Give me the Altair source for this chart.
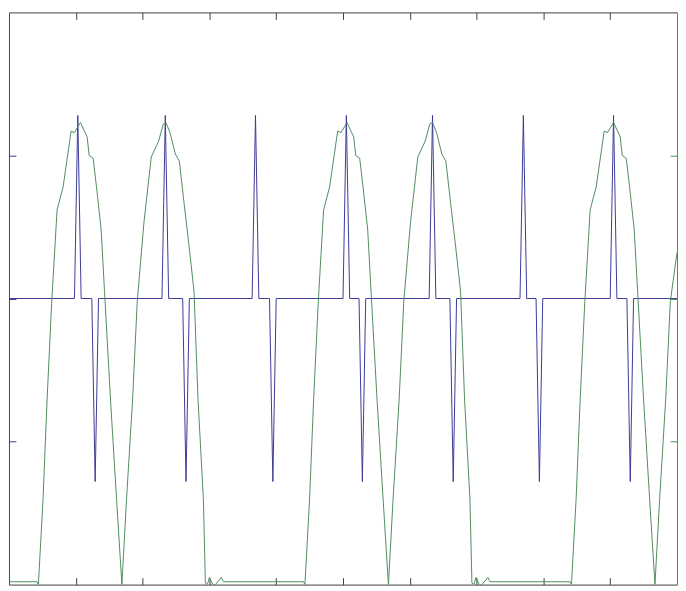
import altair as alt
import pandas as pd

W, H = 676, 579

BLUE = "#3a3a98"
GREEN = "#4e8c5e"
GRAY = "#3c3c3c"

# blue series: baseline 0 with positive / negative spikes (x positions of apexes)
blue_pos_x = [1.03, 2.34, 3.69, 5.05, 6.34, 7.70, 9.05]
blue_neg_x = [1.29, 2.65, 3.95, 5.29, 6.65, 7.94, 9.30]
spike_value = 1.28
spike_half_width = 0.05

# green series, three repeating cycles
green_x_1 = [0, 0.42, 0.44, 0.51, 0.57, 0.64, 0.72, 0.81, 0.93, 0.98,
             1.07, 1.17, 1.20, 1.26, 1.31, 1.38, 1.43, 1.52, 1.61, 1.69,
             1.76, 1.85, 1.92, 2.02, 2.13, 2.24, 2.31, 2.35, 2.41, 2.49,
             2.55, 2.62, 2.69, 2.77, 2.83, 2.91, 2.94, 2.97, 3.00, 3.05,
             3.09, 3.18, 3.21, 4.41]
green_y_1 = [-1.98, -1.98, -2.00, -1.40, -0.71, -0.02, 0.62, 0.78, 1.17, 1.16,
             1.23, 1.13, 1.00, 0.98, 0.78, 0.48, 0.05, -0.71, -1.40, -2.00,
             -1.40, -0.71, -0.02, 0.53, 0.99, 1.10, 1.22, 1.23, 1.16, 1.01,
             0.96, 0.67, 0.39, 0.05, -0.71, -1.40, -1.99, -2.00, -1.95, -2.00,
             -2.00, -1.95, -1.98, -1.98]
green_x_2 = [4.43, 4.50, 4.56, 4.63, 4.71, 4.80, 4.92, 4.97,
             5.06, 5.16, 5.19, 5.25, 5.30, 5.37, 5.42, 5.51, 5.60, 5.68,
             5.75, 5.84, 5.91, 6.01, 6.12, 6.23, 6.30, 6.34, 6.40, 6.48, 6.54, 6.61,
             6.68, 6.76, 6.82, 6.90, 6.93, 6.96, 6.99, 7.04, 7.08, 7.17, 7.20, 8.40]
green_y_2 = [-2.00, -1.40, -0.71, -0.02, 0.62, 0.78, 1.17, 1.16,
             1.23, 1.13, 1.00, 0.98, 0.78, 0.48, 0.05, -0.71, -1.40, -2.00,
             -1.40, -0.71, -0.02, 0.53, 0.99, 1.10, 1.22, 1.23, 1.16, 1.01, 0.96, 0.67,
             0.39, 0.05, -0.71, -1.40, -1.99, -2.00, -1.95, -2.00, -2.00, -1.95, -1.98, -1.98]
green_x_3 = [8.42, 8.49, 8.55, 8.62, 8.70, 8.79, 8.91, 8.96, 9.05, 9.15, 9.18,
             9.24, 9.29, 9.36, 9.41, 9.50, 9.59, 9.67, 9.74, 9.83, 9.90, 10.0]
green_y_3 = [-2.00, -1.40, -0.71, -0.02, 0.62, 0.78, 1.17, 1.16, 1.23, 1.13, 1.00,
             0.98, 0.78, 0.48, 0.05, -0.71, -1.40, -2.00, -1.40, -0.71, -0.02, 0.32]

x_ticks = [1, 2, 3, 4, 5, 6, 7, 8, 9]
y_ticks = [-1, 0, 1]

# build tables
bx, by = [0.0], [0.0]
for p, n in zip(blue_pos_x, blue_neg_x):
    bx += [p - spike_half_width, p, p + spike_half_width,
           n - spike_half_width, n, n + spike_half_width]
    by += [0, spike_value, 0, 0, -spike_value, 0]
bx.append(10.0)
by.append(0.0)
blue_df = pd.DataFrame({"x": bx, "y": by, "i": range(len(bx))})

gx = green_x_1 + green_x_2 + green_x_3
gy = green_y_1 + green_y_2 + green_y_3
green_df = pd.DataFrame({"x": gx, "y": gy, "i": range(len(gx))})

xs = alt.Scale(domain=[0, 10], nice=False, zero=False)
ys = alt.Scale(domain=[-2, 2], nice=False, zero=False)


def axis(orient, offset, values, color):
    return alt.Axis(orient=orient, offset=offset, values=values, labels=False,
                    title=None, grid=False, ticks=True, tickSize=7,
                    tickWidth=1, domainWidth=1, domainColor=color,
                    tickColor=color)


blue = alt.Chart(blue_df).mark_line(color=BLUE, strokeWidth=1, clip=True).encode(
    x=alt.X("x:Q", scale=xs, axis=axis("top", -H, x_ticks, GRAY)),
    y=alt.Y("y:Q", scale=ys, axis=axis("right", -W, y_ticks, BLUE)),
    order="i:Q",
)

green = alt.Chart(green_df).mark_line(color=GREEN, strokeWidth=1, clip=True).encode(
    x=alt.X("x:Q", scale=xs, axis=axis("bottom", -H, x_ticks, GRAY)),
    y=alt.Y("y:Q", scale=ys, axis=axis("left", -W, y_ticks, GREEN)),
    order="i:Q",
)

chart = (
    alt.layer(blue, green)
    .resolve_axis(x="independent", y="independent")
    .properties(width=W, height=H, padding=0, background="white")
    .configure_view(stroke=None)
)

chart.save("out.html", embed_options={"renderer": "svg", "actions": False})
